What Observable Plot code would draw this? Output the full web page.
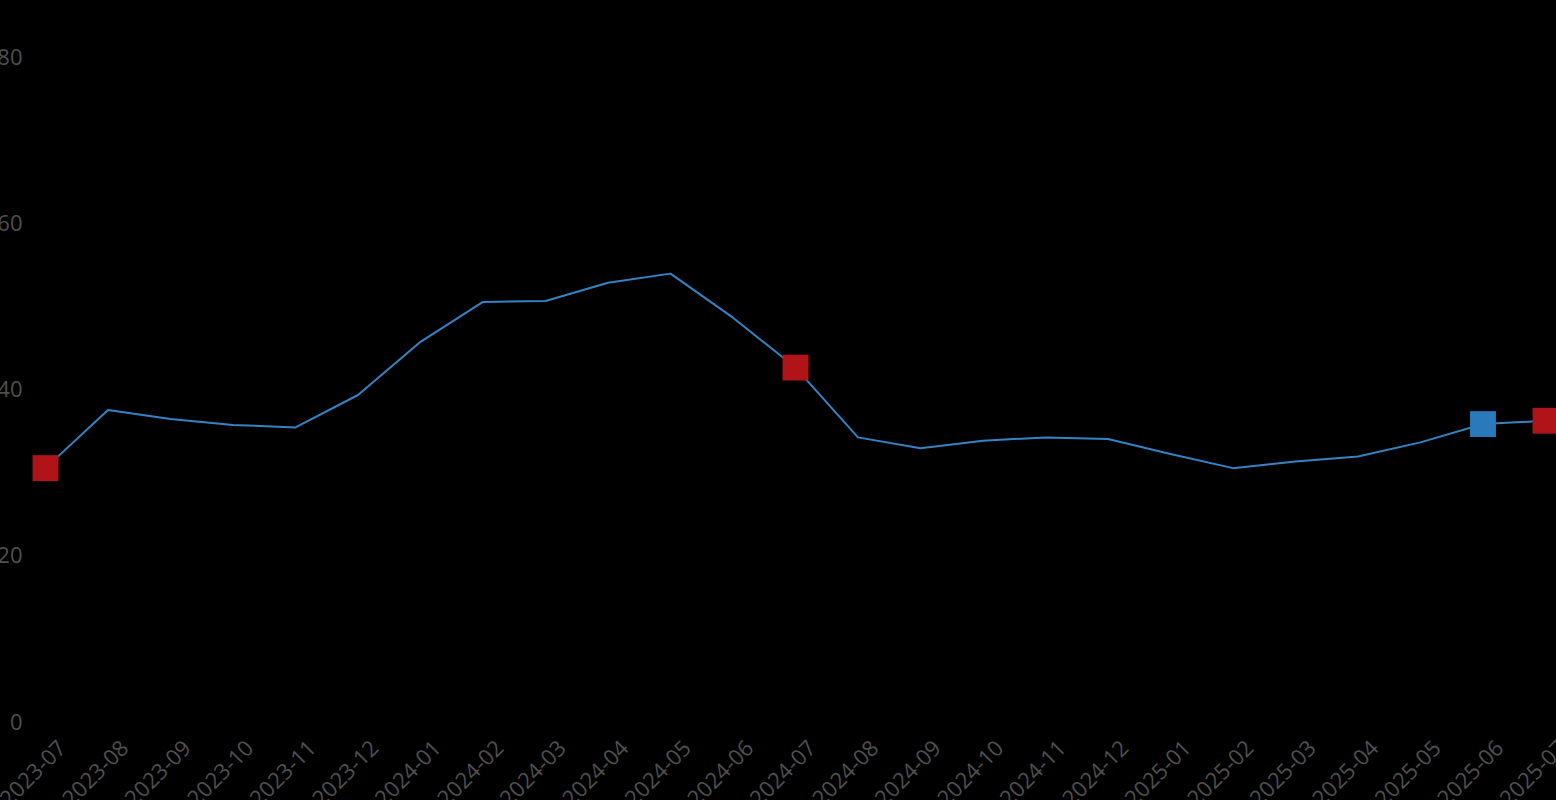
<!DOCTYPE html>
<html>
<head>
<meta charset="utf-8">
<script src="https://cdn.jsdelivr.net/npm/d3@7"></script>
<script src="https://cdn.jsdelivr.net/npm/@observablehq/plot@0.6"></script>
<style>
  html, body { margin: 0; padding: 0; background: #000; overflow: hidden; }
  #chart svg { display: block; }
</style>
</head>
<body>
<div id="chart"></div>
<script>
const months = ["2023-07","2023-08","2023-09","2023-10","2023-11","2023-12","2024-01","2024-02","2024-03","2024-04","2024-05","2024-06","2024-07","2024-08","2024-09","2024-10","2024-11","2024-12","2025-01","2025-02","2025-03","2025-04","2025-05","2025-06","2025-07"];
const values = [30.6,37.6,36.5,35.8,35.5,39.4,45.8,50.6,50.7,52.9,54.0,48.7,42.7,34.3,33.0,33.9,34.3,34.1,32.3,30.6,31.4,32.0,33.7,35.9,36.3];
const markerMonths = ["2023-07","2024-07","2025-06","2025-07"];
const markerKinds = ["year","year","month","year"];
const yTicks = [0,20,40,60,80];

const series = months.map((m, i) => ({month: m, value: values[i]}));
const markers = markerMonths.map((m, i) => ({month: m, value: values[months.indexOf(m)], kind: markerKinds[i]}));

const chart = Plot.plot({
  width: 1556,
  height: 800,
  marginLeft: 45,
  marginRight: 11,
  marginTop: 57,
  marginBottom: 78,
  style: {background: "#000", color: "#505050", fontFamily: "'Open Sans', sans-serif", fontSize: "22px"},
  x: {type: "point", domain: months, padding: 0, round: false, label: null},
  y: {domain: [0, 80], label: null},
  color: {domain: ["year", "month"], range: ["#b01419", "#2a7abb"]},
  marks: [
    Plot.axisY({ticks: yTicks, tickSize: 0, tickPadding: 23, label: null, fontSize: 22}),
    Plot.axisX({tickRotate: -45, tickSize: 0, tickPadding: 22, dx: 17, label: null, fontSize: 22}),
    Plot.line(series, {x: "month", y: "value", stroke: "#3583c4", strokeWidth: 2}),
    Plot.dot(markers, {x: "month", y: "value", symbol: "square", r: 14.6, fill: "kind", stroke: null})
  ]
});
document.getElementById("chart").appendChild(chart);
</script>
</body>
</html>
